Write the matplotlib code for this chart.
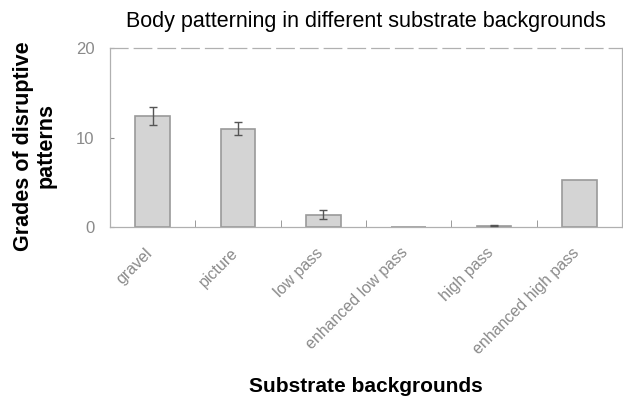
import matplotlib
matplotlib.use("Agg")
import matplotlib.pyplot as plt
import matplotlib.transforms as mtransforms
import numpy as np

plt.rcParams.update({
    "font.family": ["Liberation Sans", "DejaVu Sans"],
    "font.size": 10,
})

# data
categories = ["gravel", "picture", "low pass", "enhanced low pass",
              "high pass", "enhanced high pass"]
grades = [12.4, 11.0, 1.35, 0.0, 0.15, 5.3]
errors = [1.0, 0.75, 0.5, 0.0, 0.05, 0.0]

BAR = "#d4d4d4"
EDGE = "#9a9a9a"
GREY = "#8a8a8a"

W, H = 623, 400
fig = plt.figure(figsize=(W / 100, H / 100), dpi=100)
ax = fig.add_axes([110 / W, 1 - 227 / H, 512 / W, 179 / H])

x = np.arange(len(categories))
g = np.array(grades)
e = np.array(errors)
ax.bar(x, g, 0.41, color=BAR, edgecolor=EDGE, linewidth=1.2, zorder=2)
# only draw error bars where there is one
has_err = e > 0
ax.errorbar(x[has_err], g[has_err], yerr=e[has_err], fmt="none",
            ecolor="#555555", elinewidth=1.0, capsize=3, capthick=1.0, zorder=3)

ax.set_xlim(-0.5, len(categories) - 0.5)
ax.set_ylim(0, 20)
ax.set_yticks([0, 10, 20])
ax.tick_params(axis="y", direction="in", length=3, color=GREY,
               labelcolor=GREY, labelsize=12, pad=11)
ax.set_xticks(x)
ax.set_xticklabels(categories, rotation=45, ha="right", va="top",
                   rotation_mode="anchor", color=GREY, fontsize=11.5)
ax.tick_params(axis="x", length=0, pad=13)
shift = mtransforms.ScaledTranslation(-8 / 100, 0, fig.dpi_scale_trans)
for lab in ax.get_xticklabels():
    lab.set_transform(lab.get_transform() + shift)
ax.set_xticks(x[:-1] + 0.5, minor=True)
ax.tick_params(axis="x", which="minor", direction="in", length=5, color=GREY)

for side in ("top", "right", "bottom", "left"):
    ax.spines[side].set_color("#b0b0b0")
    ax.spines[side].set_linewidth(0.9)
ax.spines["top"].set_linestyle((0, (14, 5)))

fig.text(366 / W, 1 - 22 / H, "Body patterning in different substrate backgrounds",
         ha="center", va="center", fontsize=15.5)
fig.text(35 / W, 1 - 146 / H, "Grades of disruptive\npatterns", rotation=90,
         ha="center", va="center", fontsize=15.5, fontweight="bold",
         linespacing=1.1)
fig.text(366 / W, 1 - 386 / H, "Substrate backgrounds",
         ha="center", va="center", fontsize=15, fontweight="bold")

fig.savefig("out.png", dpi=100)
